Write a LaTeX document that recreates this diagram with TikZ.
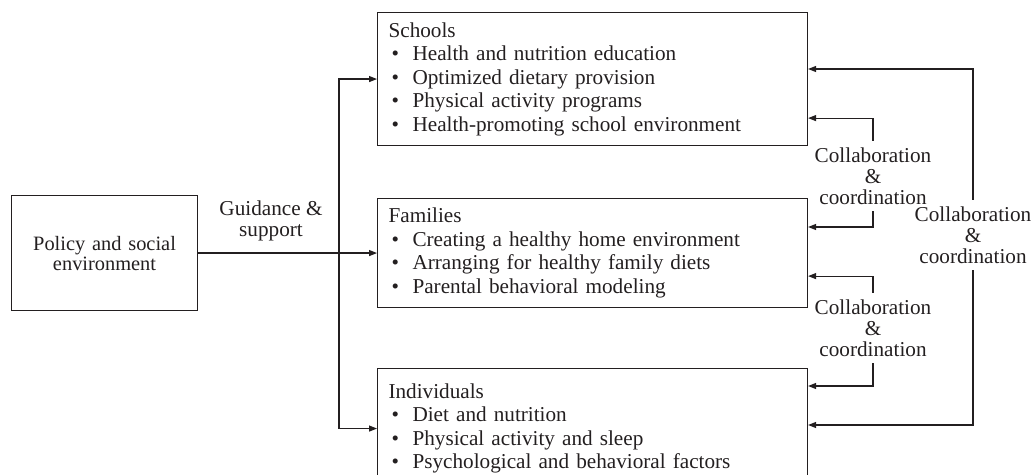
\documentclass[tikz,border=0pt]{standalone}
\usepackage{fontspec}
\setmainfont{Liberation Serif}
\usetikzlibrary{arrows.meta}
\definecolor{ink}{HTML}{231F20}
\tikzset{fig/.style={x=0.5pt,y=-0.5pt,line width=0.55pt,color=ink,line join=miter,>={Triangle[length=4pt,width=3pt]}},
  box/.style={draw,rectangle,anchor=north west,align=left,inner xsep=5.5pt,font=\fontsize{10.6}{11.75}\selectfont},
  lbl/.style={align=center,inner xsep=1pt,inner ysep=3pt,font=\fontsize{10.6}{10.5}\selectfont}}
\newcommand{\itm}[1]{\\\makebox[12pt][l]{\hspace{1.5pt}\textbullet}#1}

\begin{document}
\begin{tikzpicture}[fig]
  \useasboundingbox (0,0) rectangle (1032,475); \clip (0,0) rectangle (1032,475);
  % left: policy box and the guidance arrow
  \node[box,align=center,text width=82pt,minimum height=57.5pt,font=\fontsize{10.2}{10}\selectfont] (pol) at (11,195) {Policy and social\\environment};
  \node[lbl] (gd) at (271,221) {Guidance \&\\support};
  % the three settings
  \node[box,text width=204pt,minimum height=66.5pt] (sch) at (377,12) {Schools\itm{Health and nutrition education}\itm{Optimized dietary provision}\itm{Physical activity programs}\itm{Health-promoting school environment}};
  \node[box,text width=204pt,minimum height=54.5pt] (fam) at (377,198) {Families\itm{Creating a healthy home environment}\itm{Arranging for healthy family diets}\itm{Parental behavioral modeling}};
  \node[box,text width=204pt,minimum height=60pt] (ind) at (377,368) {Individuals\itm{Diet and nutrition}\itm{Physical activity and sleep}\itm{Psychological and behavioral factors}};
  \draw[->] (pol) -- (fam); \coordinate (spl) at (339,252.5);
  \draw[->] (spl) |- (sch); \draw[->] (spl) |- (ind);
  % collaboration links on the right
  \node[lbl] (cc1) at (873,176) {Collaboration\\\&\\coordination};
  \node[lbl] (cc2) at (873,328) {Collaboration\\\&\\coordination};
  \node[lbl] (cc3) at (973,235) {Collaboration\\\&\\coordination};
  \draw[->] (cc1.north) |- ([yshift=14pt]sch.south east); \draw[->] (cc1.south) |- ([yshift=-14.5pt]fam.north east);
  \draw[->] (cc2.north) |- ([yshift=16pt]fam.south east); \draw[->] (cc2.south) |- ([yshift=-9pt]ind.north east);
  \draw[->] (cc3.north) |- ([yshift=-28.5pt]sch.north east); \draw[->] (cc3.south) |- ([yshift=-28.5pt]ind.north east);
\end{tikzpicture}
\end{document}
